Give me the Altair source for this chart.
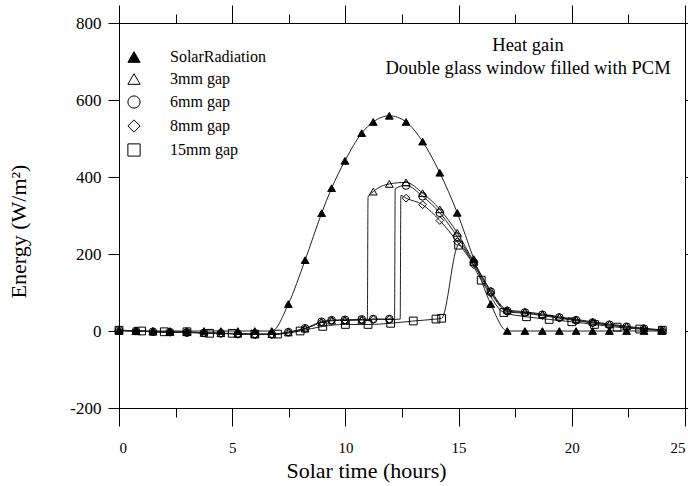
import altair as alt
import pandas as pd

series_names = ["SolarRadiation", "3mm gap", "6mm gap", "8mm gap", "15mm gap"]
shape_range = ["triangle-up", "triangle-up", "circle", "diamond", "square"]
fill_range = ["black", "transparent", "transparent", "transparent", "transparent"]
stroke_range = ["black", "black", "black", "black", "black"]

# common time grid (hours) used by solar radiation and the 3/6/8 mm series
t_grid = [0, 0.75, 1.5, 2.25, 3.0, 3.75, 4.5, 5.25, 6.0, 6.75,
          7.48, 8.22, 8.95, 9.39, 9.98, 10.72, 11.23, 11.94, 12.68, 13.41,
          14.17, 14.94, 15.67, 16.42,
          17.15, 17.93, 18.7, 19.45, 20.19, 20.92, 21.66, 22.42, 23.19, 23.97]

solar_e = [0, 0, 0, 0, 0, 0, 0, 0, 0, 0,
           70, 184, 306, 371, 442, 514, 543, 559, 543, 492,
           411, 307, 187, 70,
           0, 0, 0, 0, 0, 0, 0, 0, 0, 0]

gap3_e = [2, 0, -2, -3, -3, -5, -6, -7, -8, -8,
          -4, 6, 22, 27, 28, 29, 362, 382, 386, 358,
          316, 255, 180, 105,
          55, 50, 44, 37, 30, 24, 18, 12, 7, 3]
gap3_jump_t = [10.97, 11.0]
gap3_jump_e = [30, 348]

gap6_e = [2, 0, -2, -3, -4, -5, -6, -8, -9, -9,
          -3, 7, 24, 28, 29, 30, 31, 31, 378, 350,
          307, 245, 178, 102,
          52, 48, 42, 35, 28, 22, 16, 11, 6, 2]
gap6_jump_t = [12.17, 12.2]
gap6_jump_e = [32, 370]

gap8_e = [1, 0, -2, -3, -4, -5, -6, -8, -9, -9,
          -3, 6, 23, 27, 28, 29, 30, 30, 345, 328,
          287, 232, 172, 98,
          50, 46, 40, 33, 27, 21, 15, 10, 5, 1]
gap8_jump_t = [12.42, 12.45]
gap8_jump_e = [31, 352]

gap15_t = [0, 1, 2, 3, 4, 5, 6, 7, 8, 9, 10, 11, 12, 13, 14, 14.25,
           15, 16, 17, 18, 19, 20, 21, 22, 23, 24]
gap15_e = [2, 0, -2, -2, -6, -6, -8, -8, 0, 12, 17, 17, 20, 26, 31, 33,
           223, 132, 48, 37, 30, 24, 17, 10, 5, 2]

x_ticks = [0, 2.5, 5, 7.5, 10, 12.5, 15, 17.5, 20, 22.5, 25]
y_ticks = [-200, 0, 200, 400, 600, 800]

annotation_lines = ["Heat gain", "Double glass window filled with PCM"]

rows = []
for t, e in zip(t_grid, solar_e):
    rows.append({"series": series_names[0], "t": t, "e": e, "marker": True})
for name, vals, jt, je in [(series_names[1], gap3_e, gap3_jump_t, gap3_jump_e),
                           (series_names[2], gap6_e, gap6_jump_t, gap6_jump_e),
                           (series_names[3], gap8_e, gap8_jump_t, gap8_jump_e)]:
    for t, e in zip(t_grid, vals):
        rows.append({"series": name, "t": t, "e": e, "marker": True})
    for t, e in zip(jt, je):
        rows.append({"series": name, "t": t, "e": e, "marker": False})
for t, e in zip(gap15_t, gap15_e):
    rows.append({"series": series_names[4], "t": t, "e": e, "marker": True})
df = pd.DataFrame(rows).sort_values(["series", "t"])

FONT = "Liberation Serif"
W, H = 566, 385

xscale = alt.Scale(domain=[0, 25], nice=False)
yscale = alt.Scale(domain=[-200, 800], nice=False)

major_test = "datum.value % 5 === 0"

x_bottom = alt.Axis(values=x_ticks, labelExpr=f"{major_test} ? datum.label : ''",
                    tickSize={"condition": {"test": major_test, "value": 18}, "value": 9},
                    grid=False, domainColor="black", tickColor="black",
                    labelFont=FONT, labelFontSize=15, labelColor="black", labelPadding=14,
                    title="Solar time (hours)", titleFont=FONT, titleFontSize=22,
                    titleFontWeight="normal", titleColor="black",
                    titleX=247, titleY=62, titleAlign="center", titleBaseline="middle")
x_top = alt.Axis(orient="top", values=x_ticks, labels=False,
                 tickSize={"condition": {"test": major_test, "value": 18}, "value": 9},
                 grid=False, domainColor="black", tickColor="black", title=None)
y_left = alt.Axis(values=y_ticks, tickSize=11, grid=False, domainColor="black",
                  tickColor="black", labelFont=FONT, labelFontSize=17, labelColor="black",
                  labelExpr="'' + datum.value",
                  labelPadding=7, title="Energy (W/m²)", titleFont=FONT, titleFontSize=22,
                  titleFontWeight="normal", titleColor="black", titleAngle=-90,
                  titleX=-101, titleY=208, titleAlign="center", titleBaseline="middle")
y_right = alt.Axis(orient="right", values=y_ticks, tickSize=11, labels=False, grid=False,
                   domainColor="black", tickColor="black", title=None)

legend = alt.Legend(orient="none", legendX=7, legendY=26, title=None,
                    labelFont=FONT, labelFontSize=16, labelColor="black",
                    symbolSize=150, symbolStrokeColor="black", symbolStrokeWidth=1,
                    symbolOpacity=1, rowPadding=6, labelOffset=28)

lines = alt.Chart(df).mark_line(color="#222222", strokeWidth=1, interpolate="monotone").encode(
    x=alt.X("t:Q", scale=xscale, axis=x_bottom),
    y=alt.Y("e:Q", scale=yscale, axis=y_left),
    detail="series:N",
)

points = alt.Chart(df).transform_filter("datum.marker").mark_point(
    filled=False, strokeWidth=1, size=60, opacity=1
).encode(
    x=alt.X("t:Q", scale=xscale, axis=x_top),
    y=alt.Y("e:Q", scale=yscale, axis=y_right),
    shape=alt.Shape("series:N", scale=alt.Scale(domain=series_names, range=shape_range), legend=legend),
    fill=alt.Fill("series:N", scale=alt.Scale(domain=series_names, range=fill_range), legend=legend),
    stroke=alt.Stroke("series:N", scale=alt.Scale(domain=series_names, range=stroke_range), legend=legend),
)

ann1 = alt.Chart(pd.DataFrame({"txt": [annotation_lines[0]]})).mark_text(
    font=FONT, fontSize=18.5, color="black", align="center", baseline="middle"
).encode(text="txt:N", x=alt.value(409), y=alt.value(22))
ann2 = alt.Chart(pd.DataFrame({"txt": [annotation_lines[1]]})).mark_text(
    font=FONT, fontSize=18.5, color="black", align="center", baseline="middle"
).encode(text="txt:N", x=alt.value(409), y=alt.value(45))

chart = alt.layer(lines, points, ann1, ann2).resolve_axis(x="independent", y="independent").properties(
    width=W, height=H,
    autosize=alt.AutoSizeParams(type="none"),
    padding={"left": 119, "top": 23, "right": 3, "bottom": 78},
).configure_view(stroke=None).configure(background="white")

chart.save("out.html", embed_options={"renderer": "svg", "actions": False})
